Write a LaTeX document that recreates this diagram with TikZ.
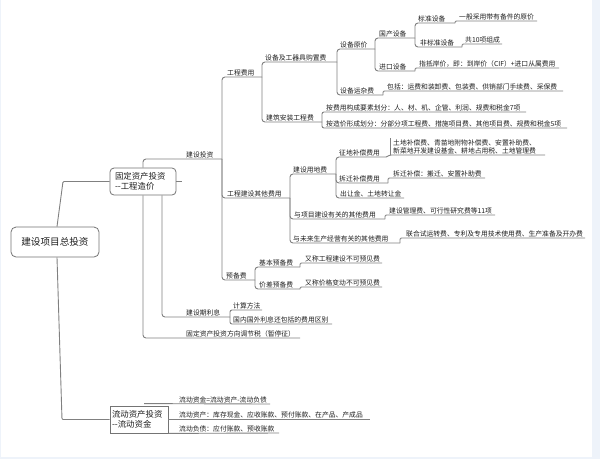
\documentclass[tikz,border=0pt]{standalone}
\usepackage{fontspec}
\newfontfamily\cjk{Noto Sans CJK SC}
\definecolor{lgray}{HTML}{808080}
\definecolor{bgray}{HTML}{747474}
\definecolor{txt}{HTML}{1E1E1E}
\definecolor{edgeblue}{HTML}{EEF3FA}
\tikzset{
  conn/.style={draw=lgray, line width=0.9pt, rounded corners=3pt},
  leafconn/.style={draw=lgray, line width=0.9pt, rounded corners=1.2pt},
  lbl/.style={font=\cjk\fontsize{6.8}{8}\selectfont, text=txt, inner sep=0pt, anchor=base west},
  boxnode/.style={draw=bgray, line width=0.8pt, fill=white, text=txt, inner sep=0pt,
    font=\cjk\fontsize{8.4}{10.5}\selectfont, align=left},
}
\newcommand\mmtopic[5]{\node[lbl] (#1) at (#2,#3-2) {#5};\coordinate (#1-r) at (#4,#3);}
\begin{document}
\begin{tikzpicture}[x=1pt,y=-1pt]
\useasboundingbox (0,0) rectangle (600,459);
\fill[edgeblue] (0,0) rectangle (600,459);
\fill[white] (1,0) rectangle (592,457);

% topics
\mmtopic{jstz}{186}{159}{222}{建设投资}
\mmtopic{gcfy}{227}{77}{262}{工程费用}
\mmtopic{sbgz}{265}{62}{337}{设备及工器具购置费}
\mmtopic{sbyj}{340}{49}{375}{设备原价}
\mmtopic{gcsb}{379}{38}{415}{国产设备}
\mmtopic{bzsb}{418}{23}{455}{标准设备}
\mmtopic{la}{459}{21}{537}{一般采用带有备件的原价}
\mmtopic{fbz}{420}{47}{462}{非标准设备}
\mmtopic{lb}{465}{44}{502}{共10项组成}
\mmtopic{jksb}{379}{71}{415}{进口设备}
\mmtopic{lc}{419}{68}{559}{指抵岸价，即：到岸价（CIF）+进口从属费用}
\mmtopic{sbyz}{340}{95}{383}{设备运杂费}
\mmtopic{ld}{387}{91}{563}{包括：运费和装卸费、包装费、供销部门手续费、采保费}
\mmtopic{jzaz}{266}{122}{322}{建筑安装工程费}
\mmtopic{le}{326}{112}{526}{按费用构成要素划分：人、材、机、企管、利润、规费和税金7项}
\mmtopic{lf}{326}{128}{567}{按造价形成划分：分部分项工程费、措施项目费、其他项目费、规费和税金5项}
\mmtopic{qtfy}{227}{198}{290}{工程建设其他费用}
\mmtopic{jsyd}{293}{174}{336}{建设用地费}
\mmtopic{zdbc}{339}{157}{386}{征地补偿费用}
\node[lbl, anchor=south west, align=left] (lg) at (393,154.6) {土地补偿费、青苗地附物补偿费、安置补助费、\\新菜地开发建设基金、耕地占用税、土地管理费};
\coordinate (lg-r) at (545,155);
\coordinate (lg-l) at (390,155);
\coordinate (lg-t) at (390,138);
\mmtopic{cqbc}{339}{183}{388}{拆迁补偿费用}
\mmtopic{lh}{393}{178}{485}{拆迁补偿：搬迁、安置补助费}
\mmtopic{li}{340}{198}{404}{出让金、土地转让金}
\mmtopic{yxm}{294}{219}{385}{与项目建设有关的其他费用}
\mmtopic{lj}{389}{215}{495}{建设管理费、可行性研究费等11项}
\mmtopic{ywl}{293}{243}{400}{与未来生产经营有关的其他费用}
\mmtopic{lk}{406}{238}{585}{联合试运转费、专利及专用技术使用费、生产准备及开办费}
\mmtopic{ybf}{226}{280}{255}{预备费}
\mmtopic{jbyb}{259}{267}{300}{基本预备费}
\mmtopic{ll}{305}{263}{382}{又称工程建设不可预见费}
\mmtopic{jcyb}{259}{289}{300}{价差预备费}
\mmtopic{lm}{305}{287}{382}{又称价格变动不可预见费}
\mmtopic{jsq}{186}{317}{230}{建设期利息}
\mmtopic{ln}{233}{310}{262}{计算方法}
\mmtopic{lo}{233}{324}{332}{国内国外利息还包括的费用区别}
\mmtopic{fxt}{186}{338}{300}{固定资产投资方向调节税（暂停征）}
\mmtopic{lda}{179}{404}{270}{流动资金=流动资产-流动负债}
\mmtopic{ldb}{179}{419.5}{370}{流动资产：库存现金、应收账款、预付账款、在产品、产成品}
\mmtopic{ldc}{179}{433}{279}{流动负债：应付账款、预收账款}

% boxes
\node[boxnode, rounded corners=5pt, minimum width=88pt, minimum height=30pt, align=center,
  font=\cjk\fontsize{9.6}{11}\selectfont] (root) at (55,242) {建设项目总投资};
\node[boxnode, rounded corners=4pt, minimum width=66pt, minimum height=27pt, text width=56pt] (gd) at (143,181.5) {固定资产投资\\-{}-工程造价};
\node[boxnode, minimum width=58pt, minimum height=27pt, text width=54pt] (lq) at (139,419.5) {流动资产投资\\-{}-流动资金};

% root connectors
\coordinate (b1) at (63,181.5);
\coordinate (b2) at (62,419.5);
\draw[conn, rounded corners=1pt] ([xshift=2pt]root.north) -- (b1) -- (gd.west);
\draw[conn, rounded corners=1pt] ([xshift=2pt]root.south) -- (b2) -- (lq.west);
\draw[conn] (gd.east) -- ++(6,0);

% fixed asset branch
\draw[conn] (gd.north) |- (jstz-r);
\draw[conn] ([xshift=19pt]gd.south) |- (jsq-r);
\draw[conn] (gd.south) |- (fxt-r);

\draw[conn] (jstz-r) |- (gcfy-r);
\draw[conn] (jstz-r) |- (qtfy-r);
\draw[conn] (jstz-r) |- (ybf-r);

\draw[conn] (gcfy-r) |- (sbgz-r);
\draw[conn] (gcfy-r) |- (jzaz-r);
\draw[conn] (sbgz-r) |- (sbyj-r);
\draw[conn] (sbgz-r) |- (sbyz-r);
\draw[conn] (sbyj-r) |- (gcsb-r);
\draw[conn] (sbyj-r) |- (jksb-r);
\draw[conn] (gcsb-r) |- (bzsb-r);
\draw[conn] (gcsb-r) |- (fbz-r);
\draw[leafconn] (bzsb-r) |- (la-r);
\draw[leafconn] (fbz-r) |- (lb-r);
\draw[leafconn] (jksb-r) |- (lc-r);
\draw[leafconn] (sbyz-r) |- (ld-r);
\draw[conn, rounded corners=2pt] (jzaz-r) |- (le-r);
\draw[conn, rounded corners=2pt] (jzaz-r) |- (lf-r);

\draw[conn] (qtfy-r) |- (jsyd-r);
\draw[conn] (qtfy-r) |- (yxm-r);
\draw[conn] (qtfy-r) |- (ywl-r);
\draw[conn] (jsyd-r) |- (zdbc-r);
\draw[conn] (jsyd-r) |- (cqbc-r);
\draw[conn] (jsyd-r) |- (li-r);
\draw[leafconn] (zdbc-r) -- (lg-l) -- (lg-r);
\draw[conn, rounded corners=0pt] (lg-l) -- (lg-t);
\draw[leafconn] (cqbc-r) |- (lh-r);
\draw[leafconn] (yxm-r) |- (lj-r);
\draw[leafconn] (ywl-r) |- (lk-r);

\draw[conn] (ybf-r) |- (jbyb-r);
\draw[conn] (ybf-r) |- (jcyb-r);
\draw[leafconn] (jbyb-r) |- (ll-r);
\draw[leafconn] (jcyb-r) |- (lm-r);

\draw[conn, rounded corners=2pt] (jsq-r) |- (ln-r);
\draw[conn, rounded corners=2pt] (jsq-r) |- (lo-r);

% current asset branch
\draw[conn] ([xshift=5pt,yshift=2pt]lq.north) -- (lda-r);
\draw[conn] (lq.east) -- (ldb-r);
\draw[conn] (lq.south east) -- (ldc-r);
\end{tikzpicture}
\end{document}
